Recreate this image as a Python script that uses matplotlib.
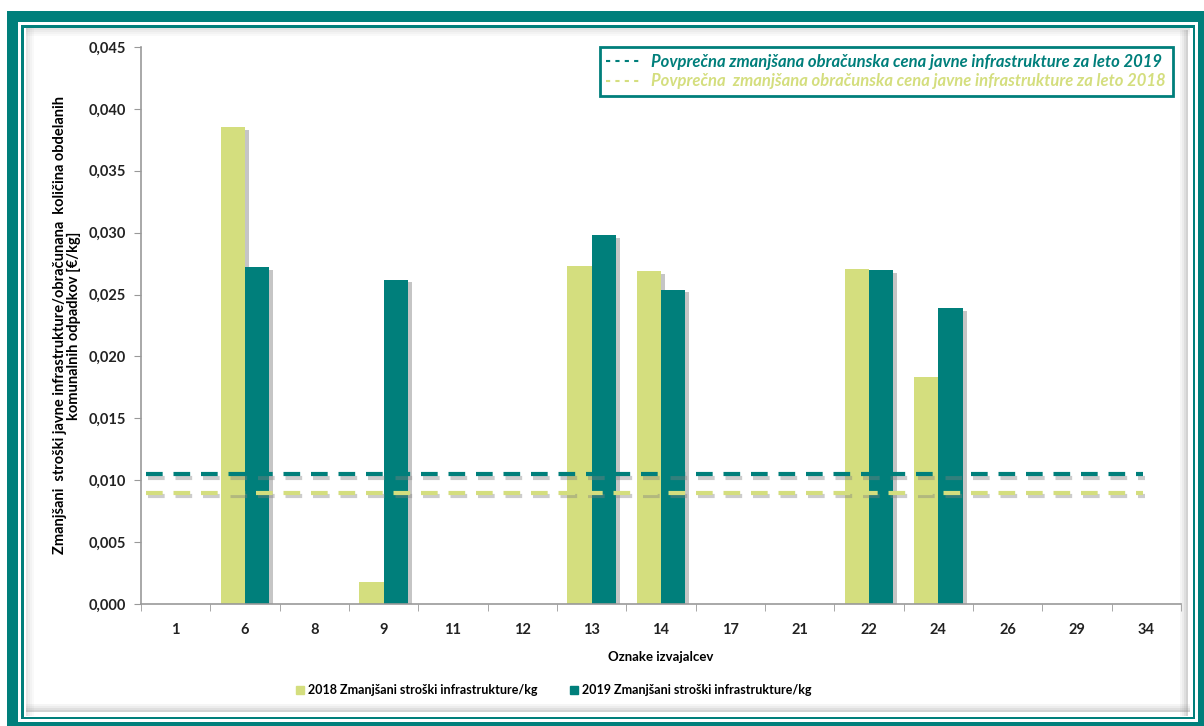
import matplotlib.pyplot as plt
import matplotlib.patheffects as pe
from matplotlib.patches import Rectangle, Patch
from matplotlib.lines import Line2D
from matplotlib.ticker import FuncFormatter, FixedLocator
import numpy as np

plt.rcParams['font.family'] = ['Lato', 'DejaVu Sans']

# podatki
oznake = ['1', '6', '8', '9', '11', '12', '13', '14', '17', '21', '22', '24', '26', '29', '34']
stroski_2018 = [0, 0.0385, 0, 0.0018, 0, 0, 0.0273, 0.0269, 0, 0, 0.0271, 0.0183, 0, 0, 0]
stroski_2019 = [0, 0.0272, 0, 0.0262, 0, 0, 0.0298, 0.0254, 0, 0, 0.0270, 0.0239, 0, 0, 0]
povprecje_2019 = 0.0105
povprecje_2018 = 0.0090

teal = '#007F7B'
rumena = '#D4DE7E'

W, H = 1204, 726
fig = plt.figure(figsize=(W / 100, H / 100), dpi=100)


def px_rect(x0, y0, x1, y1, **kw):
    # pravokotnik v pikslih (y od zgoraj)
    r = Rectangle((x0 / W, 1 - y1 / H), (x1 - x0) / W, (y1 - y0) / H,
                  transform=fig.transFigure, zorder=-5, **kw)
    fig.patches.append(r)
    return r


# okvir
px_rect(7, 11, 1215, 740, facecolor=teal, edgecolor='none')
px_rect(18, 22, 1198, 722, facecolor='white', edgecolor='none')
px_rect(21, 25, 1195, 719, facecolor=teal, edgecolor='none')
px_rect(24, 28, 1193, 717, facecolor='white', edgecolor='none')
# senca
for i, a in enumerate([0.35, 0.25, 0.15, 0.08]):
    px_rect(1186 - i * 2, 30, 1188 - i * 2, 716, facecolor='gray', alpha=a, edgecolor='none')
    px_rect(26, 710 - i * 2, 1190, 712 - i * 2, facecolor='gray', alpha=a, edgecolor='none')
    px_rect(26, 28 + i * 2, 1190, 30 + i * 2, facecolor='gray', alpha=a * 0.6, edgecolor='none')
    px_rect(26 + i * 2, 28, 28 + i * 2, 716, facecolor='gray', alpha=a * 0.6, edgecolor='none')

ax = fig.add_axes([141 / W, 1 - 604 / H, (1181 - 141) / W, (604 - 47) / H])
ax.set_facecolor('none')

x = np.arange(len(oznake))
w = 0.35
senca = [pe.SimplePatchShadow(offset=(3, -2), shadow_rgbFace='gray', alpha=0.45), pe.Normal()]
b1 = ax.bar(x - w / 2, stroski_2018, w, color=rumena, zorder=2, path_effects=senca)
b2 = ax.bar(x + w / 2, stroski_2019, w, color=teal, zorder=2, path_effects=senca)

senca_l = [pe.SimpleLineShadow(offset=(1.5, -2.5), shadow_color='gray', alpha=0.4), pe.Normal()]
crta = (0, (4.0, 2.6))
ax.hlines(povprecje_2019, -0.43, 13.95, colors=teal, linestyles=crta, lw=3,
          zorder=3, path_effects=senca_l)
ax.hlines(povprecje_2018, -0.43, 13.95, colors=rumena, linestyles=crta, lw=3,
          zorder=3, path_effects=senca_l)

ax.set_xlim(-0.5, len(oznake) - 0.5)
ax.set_ylim(0, 0.045)
ax.set_yticks(np.arange(0, 0.0451, 0.005))
ax.yaxis.set_major_formatter(FuncFormatter(lambda v, p: f'{v:.3f}'.replace('.', ',')))
ax.set_xticks(x)
ax.set_xticklabels(oznake)
ax.xaxis.set_minor_locator(FixedLocator(np.arange(-0.5, len(oznake), 1)))
ax.tick_params(axis='x', which='major', length=0, pad=14, labelsize=10.5)
ax.tick_params(axis='x', which='minor', length=5, color='#999999')
ax.tick_params(axis='y', length=5, color='#999999', labelsize=10.5, pad=6)
for lab in ax.get_xticklabels() + ax.get_yticklabels():
    lab.set_fontweight('bold')
    lab.set_color('#222222')
for s in ['top', 'right']:
    ax.spines[s].set_visible(False)
for s in ['left', 'bottom']:
    ax.spines[s].set_color('#999999')
    ax.spines[s].set_linewidth(1.2)

ax.set_xlabel('Oznake izvajalcev', fontsize=9.5, fontweight='bold', labelpad=10)
ax.set_ylabel('Zmanjšani  stroški javne infrastrukture/obračunana  količina obdelanih\n'
              'komunalnih odpadkov [€/kg]', fontsize=10.5, fontweight='bold', labelpad=5,
              linespacing=1.05)

# legenda povprečij
h1 = Line2D([], [], color=teal, ls=(0, (2, 2.5)), lw=1.5)
h2 = Line2D([], [], color=rumena, ls=(0, (2, 2.5)), lw=1.5)
leg = ax.legend([h1, h2],
                ['Povprečna zmanjšana obračunska cena javne infrastrukture za leto 2019',
                 'Povprečna  zmanjšana obračunska cena javne infrastrukture za leto 2018'],
                loc='upper right', bbox_to_anchor=(1181 / W, 1 - 39 / H),
                bbox_transform=fig.transFigure, fancybox=False, framealpha=1,
                handlelength=2.2, handletextpad=0.5, borderpad=0.4, labelspacing=0.2,
                prop={'style': 'italic', 'weight': 'bold', 'size': 12})
leg.get_frame().set_edgecolor(teal)
leg.get_frame().set_linewidth(2)
for t, c in zip(leg.get_texts(), [teal, rumena]):
    t.set_color(c)

# spodnja legenda
fig.legend([Patch(color=rumena), Patch(color=teal)],
           ['2018 Zmanjšani stroški infrastrukture/kg', '2019 Zmanjšani stroški infrastrukture/kg'],
           loc='center', bbox_to_anchor=(554 / W, 1 - 690 / H), ncol=2, frameon=False,
           handlelength=0.6, handleheight=0.6, handletextpad=0.35, columnspacing=2.6,
           prop={'weight': 'bold', 'size': 9})

fig.savefig('out.png', dpi=100)
